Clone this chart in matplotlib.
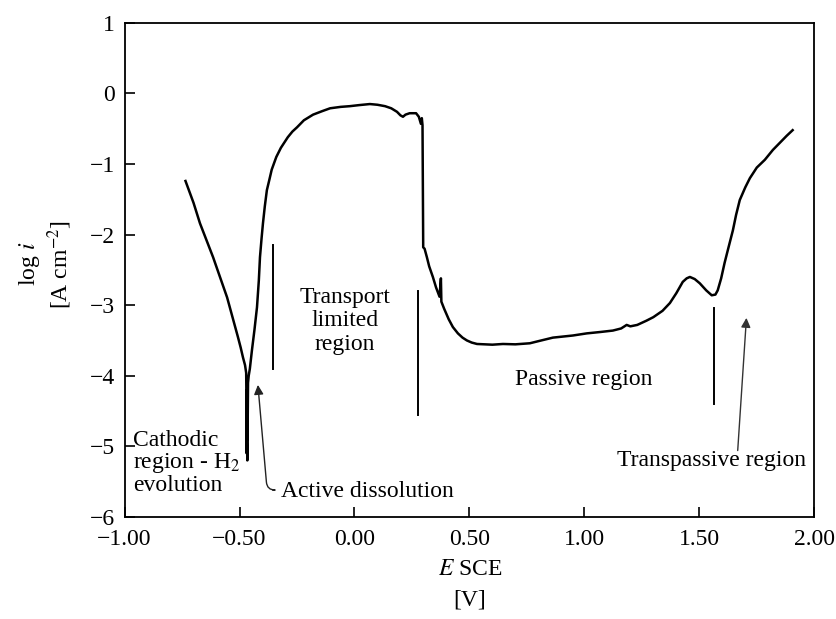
import matplotlib
matplotlib.use("Agg")
import matplotlib.pyplot as plt

plt.rcParams['font.family'] = ['Liberation Serif', 'DejaVu Serif']
plt.rcParams['mathtext.fontset'] = 'stix'
plt.rcParams['axes.unicode_minus'] = True

# polarisation curve (E vs SCE in V, log i)
E = [-0.735, -0.70, -0.672, -0.615, -0.554, -0.507, -0.495, -0.485, -0.476,
     -0.471, -0.470, -0.469, -0.467, -0.466, -0.468, -0.465, -0.463, -0.460,
     -0.455, -0.446, -0.435, -0.424, -0.416, -0.411, -0.404, -0.398, -0.39,
     -0.381, -0.37, -0.36, -0.34, -0.32, -0.29, -0.27, -0.25, -0.22, -0.18,
     -0.14, -0.106, -0.06, -0.02, 0.02, 0.067, 0.10, 0.133, 0.16, 0.185, 0.20,
     0.211, 0.222, 0.24, 0.268, 0.28, 0.289, 0.293, 0.296,
     0.299, 0.305, 0.315, 0.325, 0.341, 0.355, 0.370, 0.376, 0.378, 0.39,
     0.41, 0.428, 0.45, 0.47, 0.489, 0.51, 0.533, 0.60, 0.646, 0.70, 0.763,
     0.80, 0.863, 0.95, 1.01, 1.07, 1.124, 1.16, 1.184, 1.20, 1.23, 1.27,
     1.30, 1.34, 1.372, 1.40, 1.428, 1.445, 1.459, 1.48, 1.502, 1.53, 1.554,
     1.57, 1.58, 1.595, 1.61, 1.624, 1.646, 1.66, 1.676, 1.70, 1.72, 1.75,
     1.785, 1.82, 1.85, 1.88, 1.906]
logi = [-1.24, -1.55, -1.84, -2.32, -2.89, -3.45, -3.60, -3.74, -3.85,
        -3.96, -4.3, -5.1, -4.4, -5.2, -4.2, -4.9, -4.1, -4.0,
        -3.9, -3.64, -3.35, -3.03, -2.65, -2.32, -2.05, -1.84, -1.60,
        -1.37, -1.22, -1.08, -0.90, -0.77, -0.62, -0.54, -0.48, -0.38, -0.30,
        -0.25, -0.21, -0.19, -0.18, -0.165, -0.15, -0.16, -0.18, -0.21, -0.26, -0.31,
        -0.33, -0.30, -0.28, -0.28, -0.33, -0.43, -0.35, -0.45,
        -2.18, -2.20, -2.32, -2.45, -2.60, -2.75, -2.88, -2.62, -2.95, -3.05,
        -3.20, -3.31, -3.40, -3.46, -3.50, -3.53, -3.55, -3.56, -3.55, -3.555, -3.54,
        -3.51, -3.46, -3.43, -3.40, -3.38, -3.36, -3.33, -3.28, -3.30, -3.28, -3.22,
        -3.17, -3.08, -2.97, -2.83, -2.67, -2.62, -2.60, -2.63, -2.69, -2.79, -2.86,
        -2.85, -2.79, -2.62, -2.40, -2.22, -1.94, -1.72, -1.51, -1.33, -1.20, -1.05,
        -0.94, -0.80, -0.70, -0.60, -0.52]

# region boundary markers: (E, top, bottom)
markers = [(-0.354, -2.15, -3.9), (0.276, -2.8, -4.56), (1.563, -3.04, -4.4)]

xticks = [-1.0, -0.5, 0.0, 0.5, 1.0, 1.5, 2.0]
xticklabels = ['\u22121.00', '\u22120.50', '0.00', '0.50', '1.00', '1.50', '2.00']
yticks = [-6, -5, -4, -3, -2, -1, 0, 1]

fig = plt.figure(figsize=(8.36, 6.19), dpi=100)
ax = fig.add_axes([0.149, 0.165, 0.825, 0.798])

ax.plot(E, logi, color='black', lw=1.8, solid_joinstyle='round')
for xm, y0, y1 in markers:
    ax.plot([xm, xm], [y0, y1], color='black', lw=1.4)

ax.set_xlim(-1, 2)
ax.set_ylim(-6, 1)
ax.set_xticks(xticks)
ax.set_xticklabels(xticklabels)
ax.set_yticks(yticks)
ax.tick_params(direction='in', length=7, width=1.2, labelsize=17)
ax.tick_params(axis='x', pad=9)
ax.tick_params(axis='y', pad=7)
for s in ax.spines.values():
    s.set_linewidth(1.3)

fs = 17
ax.text(-0.963, -5.24, 'Cathodic\nregion - H$_2$\nevolution', fontsize=fs,
        ha='left', va='center', linespacing=1.0)
ax.text(-0.32, -5.64, 'Active dissolution', fontsize=fs, ha='left', va='center')
ax.text(-0.041, -3.22, 'Transport\nlimited\nregion', fontsize=fs,
        ha='center', va='center', multialignment='center', linespacing=1.15)
ax.text(0.996, -4.06, 'Passive region', fontsize=fs, ha='center', va='center')
ax.text(1.963, -5.2, 'Transpassive region', fontsize=fs, ha='right', va='center')

ax.annotate('', xy=(-0.42, -4.13), xytext=(-0.355, -5.62),
            arrowprops=dict(arrowstyle='-|>', color='#222222', lw=1.0,
                            mutation_scale=14,
                            connectionstyle='angle,angleA=180,angleB=95,rad=8',
                            shrinkA=0, shrinkB=0))
ax.annotate('', xy=(1.705, -3.18), xytext=(1.667, -5.06),
            arrowprops=dict(arrowstyle='-|>', color='#333333', lw=1.0,
                            mutation_scale=14, shrinkA=0, shrinkB=0))

fig.text(0.054, 0.573, 'log $i$\n[A cm$^{-2}$]', fontsize=fs, rotation=90,
         ha='center', va='center', multialignment='center', linespacing=1.15)
fig.text(0.562, 0.055, '$E$ SCE\n[V]', fontsize=fs, ha='center', va='center',
         multialignment='center', linespacing=1.6)

fig.savefig('out.png', dpi=100)
